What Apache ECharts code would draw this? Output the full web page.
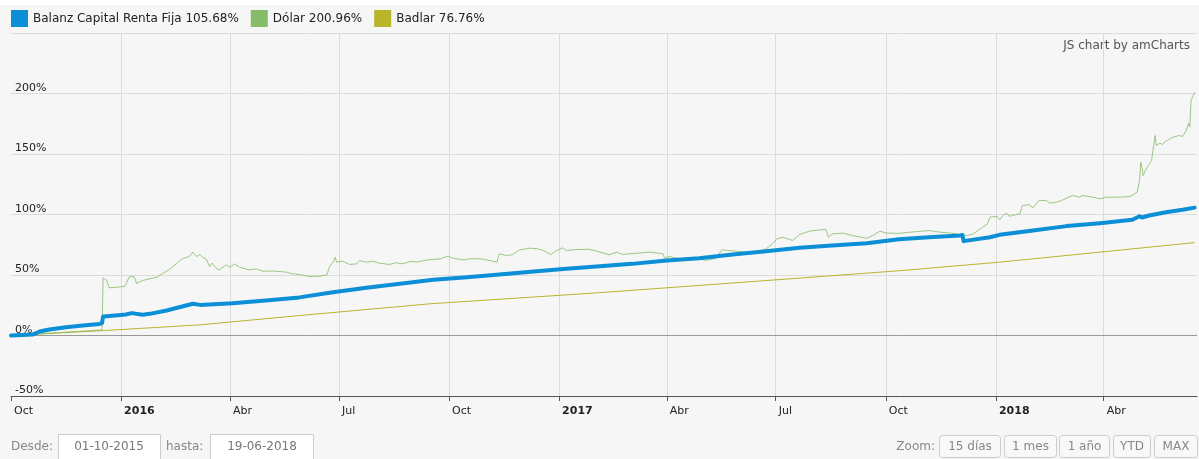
<!DOCTYPE html>
<html>
<head>
<meta charset="utf-8">
<script src="https://cdn.jsdelivr.net/npm/echarts@6/dist/echarts.min.js"></script>
<style>
html,body{margin:0;padding:0;background:#f6f6f6;}
#c{width:1199px;height:459px;}
</style>
</head>
<body>
<div id="c"></div>
<script>
// ---------- DATA ----------
const seriesNames = ['Balanz Capital Renta Fija', 'Dólar', 'Badlar'];
const legendValues = ['105.68%', '200.96%', '76.76%'];

const balanz = [
  ['2015-10-01',0],['2015-10-19',0.8],['2015-10-25',3.3],['2015-11-02',5],['2015-11-16',6.9],
  ['2015-11-30',8.3],['2015-12-14',9.6],['2015-12-16',10.2],['2015-12-17',15.7],['2015-12-27',16.5],
  ['2016-01-05',17.4],['2016-01-10',18.5],['2016-01-19',17.1],['2016-01-25',17.9],['2016-02-08',20.7],
  ['2016-02-21',24],['2016-03-01',26.2],['2016-03-07',25.3],['2016-04-03',26.7],['2016-05-01',28.9],
  ['2016-05-29',31.5],['2016-06-26',35.8],['2016-07-24',39.4],['2016-08-21',42.7],['2016-09-18',46],
  ['2016-10-16',48.2],['2016-11-12',50.4],['2016-12-11',52.9],['2017-01-07',55.1],['2017-02-04',57.2],
  ['2017-03-03',59.2],['2017-04-01',62],['2017-04-28',63.9],['2017-05-26',66.9],['2017-06-23',69.7],
  ['2017-07-21',72.5],['2017-08-17',74.4],['2017-09-15',76.3],['2017-10-12',79.5],['2017-11-06',81.2],
  ['2017-12-02',82.6],['2017-12-04',83],['2017-12-05',78],['2017-12-27',81.2],['2018-01-04',83.2],
  ['2018-02-01',86.8],['2018-03-01',90.4],['2018-03-29',92.8],['2018-04-25',95.6],['2018-05-01',98.5],
  ['2018-05-03',97.5],['2018-05-09',99.2],['2018-05-23',101.9],['2018-06-06',103.9],['2018-06-16',105.68]
];

const dolar = [
  ['2015-10-01',0],['2015-10-20',1.2],['2015-11-10',2.4],['2015-11-30',3.6],['2015-12-16',4.7],
  ['2015-12-17',47.7],['2015-12-20',45.5],['2015-12-22',39.4],['2016-01-04',40.5],['2016-01-08',48.8],
  ['2016-01-12',48.5],['2016-01-14',43],['2016-01-19',45.5],['2016-01-31',48.2],['2016-02-05',51.5],
  ['2016-02-10',54.3],['2016-02-16',59.2],['2016-02-21',63.4],['2016-02-27',65.3],['2016-03-01',68.9],
  ['2016-03-04',65.3],['2016-03-07',66.9],['2016-03-09',64.7],['2016-03-12',63.4],['2016-03-15',57],
  ['2016-03-17',59.8],['2016-03-21',55.1],['2016-03-23',54.3],['2016-03-29',58.4],['2016-04-01',56.4],
  ['2016-04-05',59.2],['2016-04-09',56.4],['2016-04-17',54.3],['2016-04-23',55.1],['2016-04-28',53.2],
  ['2016-05-08',53.2],['2016-05-18',52.4],['2016-05-23',51],['2016-05-29',50.4],['2016-06-06',48.8],
  ['2016-06-15',49],['2016-06-21',50.2],['2016-06-23',56.4],['2016-06-26',60.6],['2016-06-28',64.7],
  ['2016-06-29',60.6],['2016-07-04',61.4],['2016-07-10',58.7],['2016-07-16',59.2],['2016-07-18',62],
  ['2016-07-24',60.6],['2016-07-29',61.4],['2016-08-04',59.8],['2016-08-12',58.7],['2016-08-18',60.1],
  ['2016-08-23',59.2],['2016-08-30',61.4],['2016-09-04',60.6],['2016-09-13',62.5],['2016-09-24',63.4],
  ['2016-09-30',65.6],['2016-10-04',63.9],['2016-10-13',62.5],['2016-10-19',63.4],['2016-10-27',63.4],
  ['2016-11-04',62],['2016-11-10',60.6],['2016-11-12',67.5],['2016-11-18',66.1],['2016-11-23',66.7],
  ['2016-11-29',70.8],['2016-12-08',72.2],['2016-12-14',71.6],['2016-12-19',70.2],['2016-12-25',66.9],
  ['2016-12-30',70.2],['2017-01-04',72.5],['2017-01-07',70.2],['2017-01-15',71],['2017-01-26',71.3],
  ['2017-02-04',69],['2017-02-12',66.7],['2017-02-18',68.9],['2017-02-23',67],['2017-03-07',68],
  ['2017-03-18',68.9],['2017-03-29',67.5],['2017-03-30',63.9],['2017-04-03',65.3],['2017-04-12',63.4],
  ['2017-04-20',62.8],['2017-04-28',63.4],['2017-05-04',62],['2017-05-12',63.9],['2017-05-17',70.8],
  ['2017-05-23',70.2],['2017-06-01',69.4],['2017-06-09',68.3],['2017-06-17',69.4],['2017-06-23',71.6],
  ['2017-06-28',75.7],['2017-07-02',79.9],['2017-07-07',81.2],['2017-07-15',78.5],['2017-07-21',83.5],
  ['2017-07-29',86.2],['2017-08-07',87.3],['2017-08-12',87.6],['2017-08-14',81.2],['2017-08-17',84],
  ['2017-08-26',84.6],['2017-09-03',82.6],['2017-09-15',80.4],['2017-09-20',82.6],['2017-09-26',86.2],
  ['2017-10-02',84.6],['2017-10-12',84.4],['2017-10-21',85.4],['2017-10-29',86],['2017-11-06',86.8],
  ['2017-11-15',85.4],['2017-11-23',84.8],['2017-12-02',83.5],['2017-12-08',82.6],['2017-12-13',84],
  ['2017-12-19',88.2],['2017-12-25',92.3],['2017-12-27',97.8],['2018-01-02',98.5],['2018-01-04',95.6],
  ['2018-01-07',99.2],['2018-01-10',101.1],['2018-01-12',98.5],['2018-01-15',99.2],['2018-01-21',100.6],
  ['2018-01-23',107.4],['2018-01-29',108],['2018-02-01',105.5],['2018-02-06',111.6],['2018-02-12',111.6],
  ['2018-02-15',109.4],['2018-02-21',110.2],['2018-02-26',112.1],['2018-03-06',115.7],['2018-03-12',114.3],
  ['2018-03-14',115.7],['2018-03-23',114.3],['2018-03-29',113],['2018-04-03',114.3],['2018-04-14',114.3],
  ['2018-04-23',114.8],['2018-04-29',118.4],['2018-05-01',128.1],['2018-05-02',143.2],['2018-05-03',138.6],
  ['2018-05-04',132.2],['2018-05-07',138.6],['2018-05-11',144.6],['2018-05-14',165.3],['2018-05-15',157],
  ['2018-05-18',158.9],['2018-05-20',157.9],['2018-05-23',160.6],['2018-05-29',163.9],['2018-06-03',165.3],
  ['2018-06-06',164.5],['2018-06-09',169.4],['2018-06-11',175.5],['2018-06-12',172.2],['2018-06-13',194.2],
  ['2018-06-16',200.96]
];

const badlar = [
  ['2015-10-01',0],['2015-12-18',4.1],['2016-03-07',8.8],['2016-05-29',16.5],['2016-09-15',26.2],
  ['2017-02-04',35.4],['2017-06-09',44.4],['2017-10-12',53.5],['2018-01-04',60.6],['2018-03-29',68.9],
  ['2018-06-16',76.76]
];

const tickDates = ['2015-10-01','2016-01-01','2016-04-01','2016-07-01','2016-10-01','2017-01-01',
                   '2017-04-01','2017-07-01','2017-10-01','2018-01-01','2018-04-01'];
const monthNames = ['Ene','Feb','Mar','Abr','May','Jun','Jul','Ago','Sep','Oct','Nov','Dic'];
const axisStart = '2015-10-01', axisEnd = '2018-06-18';
const yMin = -50, yMax = 250, yStep = 50;

const dateFromLabel = 'Desde:', dateToLabel = 'hasta:';
const dateFrom = '01-10-2015', dateTo = '19-06-2018';
const zoomLabel = 'Zoom:';
const zoomButtons = ['15 días', '1 mes', '1 año', 'YTD', 'MAX'];
const creditText = 'JS chart by amCharts';

// ---------- LAYOUT / STYLE ----------
const colors = ['#0b8fd6', '#86bc68', '#b8b52b'];
const FONT = '"DejaVu Sans", Verdana, sans-serif';
const buttonBoxes = [[939, 61], [1004, 52], [1059, 50], [1113, 37], [1154, 43]];

const ts = s => { const p = s.split('-').map(Number); return new Date(p[0], p[1] - 1, p[2]).getTime(); };
const toData = arr => arr.map(([d, v]) => [ts(d), v]);

const chart = echarts.init(document.getElementById('c'), null, {renderer: 'canvas'});

const graphics = [
  {type: 'rect', shape: {x: 0, y: 0, width: 1199, height: 5}, style: {fill: '#ffffff'}, silent: true, z: -10},
  {type: 'text', x: 1190, y: 46, style: {text: creditText, fill: '#555', font: '12px ' + FONT, align: 'right', verticalAlign: 'middle'}},
  {type: 'text', x: 11, y: 447, style: {text: dateFromLabel, fill: '#888', font: '12px ' + FONT, align: 'left', verticalAlign: 'middle'}},
  {type: 'rect', shape: {x: 58.5, y: 434.5, width: 102, height: 28}, style: {fill: '#ffffff', stroke: '#cccccc', lineWidth: 1}},
  {type: 'text', x: 109, y: 447, style: {text: dateFrom, fill: '#777', font: '12px ' + FONT, align: 'center', verticalAlign: 'middle'}},
  {type: 'text', x: 166, y: 447, style: {text: dateToLabel, fill: '#888', font: '12px ' + FONT, align: 'left', verticalAlign: 'middle'}},
  {type: 'rect', shape: {x: 210.5, y: 434.5, width: 103, height: 28}, style: {fill: '#ffffff', stroke: '#cccccc', lineWidth: 1}},
  {type: 'text', x: 262, y: 447, style: {text: dateTo, fill: '#777', font: '12px ' + FONT, align: 'center', verticalAlign: 'middle'}},
  {type: 'text', x: 935, y: 447, style: {text: zoomLabel, fill: '#888', font: '12px ' + FONT, align: 'right', verticalAlign: 'middle'}}
];
zoomButtons.forEach((label, i) => {
  const [bx, bw] = buttonBoxes[i];
  graphics.push({type: 'rect', shape: {x: bx + 0.5, y: 435.5, width: bw, height: 22, r: 3},
    style: {fill: '#f8f8f8', stroke: '#cccccc', lineWidth: 1}});
  graphics.push({type: 'text', x: bx + bw / 2 + 0.5, y: 447,
    style: {text: label, fill: '#888', font: '12px ' + FONT, align: 'center', verticalAlign: 'middle'}});
});

const option = {
  animation: false,
  backgroundColor: '#f6f6f6',
  textStyle: {fontFamily: FONT},
  legend: {
    left: 11, top: 10, padding: 0, itemWidth: 17, itemHeight: 17, itemGap: 12,
    icon: 'rect', selectedMode: false,
    data: seriesNames,
    formatter: name => name + ' ' + legendValues[seriesNames.indexOf(name)],
    textStyle: {color: '#222', fontSize: 12, fontFamily: FONT}
  },
  grid: {left: 11, right: 2, top: 33, bottom: 63, containLabel: false, outerBoundsMode: 'none'},
  xAxis: {
    type: 'value',
    min: ts(axisStart), max: ts(axisEnd),
    axisLine: {show: true, onZero: false, lineStyle: {color: '#555', width: 1}},
    axisTick: {show: true, length: 5, lineStyle: {color: '#555'}, customValues: tickDates.map(ts)},
    splitLine: {show: true, showMinLine: false, lineStyle: {color: '#dcdcdc', width: 1}},
    axisLabel: {
      customValues: tickDates.map(ts),
      align: 'left', margin: 10, padding: [0, 0, 0, 3],
      color: '#222', fontSize: 11, fontFamily: FONT,
      formatter: v => { const d = new Date(v); return d.getMonth() === 0 ? '{y|' + d.getFullYear() + '}' : monthNames[d.getMonth()]; },
      rich: {y: {fontWeight: 'bold', fontSize: 11, color: '#222', fontFamily: FONT}}
    }
  },
  yAxis: {
    type: 'value', min: yMin, max: yMax, interval: yStep,
    axisLine: {show: false}, axisTick: {show: false},
    splitLine: {show: true, lineStyle: {color: '#dcdcdc', width: 1}},
    axisLabel: {
      inside: true, margin: 4, showMaxLabel: false, verticalAlign: 'bottom', padding: [0, 0, 0, 0],
      color: '#222', fontSize: 11, fontFamily: FONT, formatter: '{value}%'
    }
  },
  series: [
    {name: seriesNames[0], type: 'line', data: toData(balanz), showSymbol: false, symbol: 'none', z: 5,
      lineStyle: {color: colors[0], width: 4, join: 'round', cap: 'round'}, itemStyle: {color: colors[0]}},
    {name: seriesNames[1], type: 'line', data: toData(dolar), showSymbol: false, symbol: 'none', z: 4,
      lineStyle: {color: colors[1], width: 1, opacity: 0.8}, itemStyle: {color: colors[1]}},
    {name: seriesNames[2], type: 'line', data: toData(badlar), showSymbol: false, symbol: 'none', z: 3,
      lineStyle: {color: colors[2], width: 1}, itemStyle: {color: colors[2]},
      markLine: {silent: true, symbol: 'none', label: {show: false}, lineStyle: {color: '#999', width: 1, type: 'solid'},
        data: [{yAxis: 0}], z: 1}}
  ],
  graphic: graphics
};
chart.setOption(option);
</script>
</body>
</html>
